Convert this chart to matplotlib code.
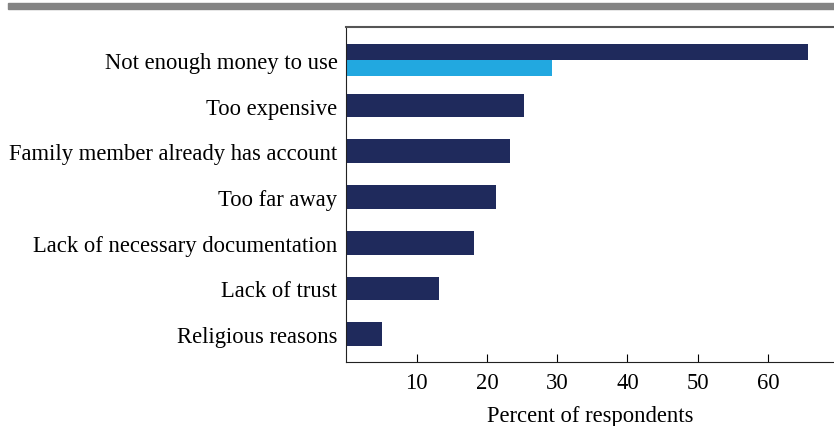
import numpy as np
import matplotlib.pyplot as plt
from matplotlib.patches import Rectangle

plt.rcParams['font.family'] = ['Liberation Serif', 'DejaVu Serif']

# Reasons for not having an account
categories = ['Not enough money to use', 'Too expensive',
              'Family member already has account', 'Too far away',
              'Lack of necessary documentation', 'Lack of trust',
              'Religious reasons']
values = [65.7, 25.3, 23.3, 21.3, 18.2, 13.2, 5.05]
# second series, only reported for the first reason
second_values = [29.2]

dark = '#1f2a5c'
light = '#22a8e0'

fig = plt.figure(figsize=(8.34, 4.27), dpi=100)
ax = fig.add_axes([0.4154, 0.1499, 0.5846, 0.7845])

y = np.arange(len(categories))
h = [0.35] + [0.52] * (len(categories) - 1)
offs = [-0.175] + [0] * (len(categories) - 1)
ax.barh(y + np.array(offs), values, height=h, color=dark)
ax.barh(y[:1] + 0.175, second_values, height=0.35, color=light)

ax.set_ylim(6.61, -0.72)
ax.set_xlim(0, 69.4)
ax.set_yticks(y)
ax.set_yticklabels(categories, fontsize=16.3)
ax.tick_params(axis='y', length=0, pad=6.5)
ax.set_xticks([10, 20, 30, 40, 50, 60])
ax.tick_params(axis='x', direction='in', length=5.5, labelsize=16.3, pad=7)
ax.set_xlabel('Percent of respondents', fontsize=16.3, labelpad=9)

for s in ['left', 'bottom']:
    ax.spines[s].set_color('#222222')
ax.spines['top'].set_color('#555555')
ax.spines['top'].set_linewidth(1.5)
ax.spines['right'].set_visible(False)

# grey rule across the top
fig.patches.append(Rectangle((8 / 834, 1 - 10 / 427), 1, 6 / 427,
                             transform=fig.transFigure, color='#848484'))

plt.savefig('out.png', dpi=100)
